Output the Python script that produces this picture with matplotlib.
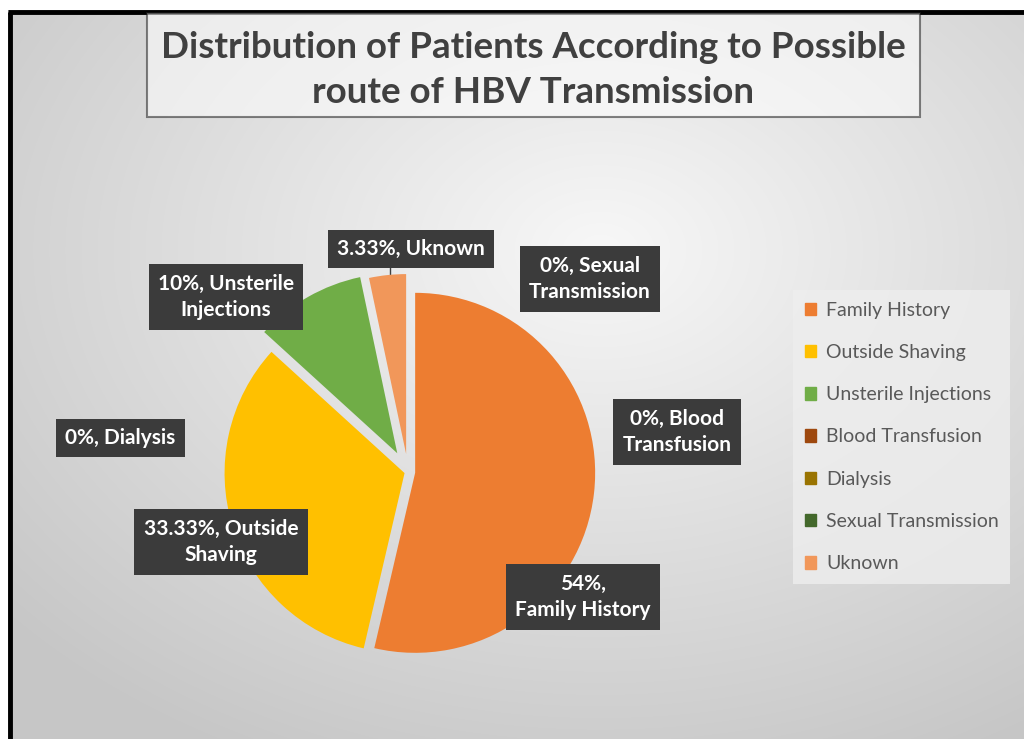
import numpy as np
import matplotlib
matplotlib.use("Agg")
from matplotlib import pyplot as plt
from matplotlib.patches import Rectangle

categories = ["Family History", "Outside Shaving", "Unsterile Injections",
              "Blood Transfusion", "Dialysis", "Sexual Transmission", "Uknown"]
percents = [54, 33.33, 10, 0, 0, 0, 3.33]
colors = ["#ED7D31", "#FFC000", "#70AD47", "#9E480E", "#997300", "#43682B", "#F1975A"]
explode = [0.04, 0.02, 0.12, 0, 0, 0, 0.1]
# where the label text is broken onto a second line
breaks = {"Family History": "54%,\nFamily History",
          "Outside Shaving": "33.33%, Outside\nShaving",
          "Unsterile Injections": "10%, Unsterile\nInjections",
          "Blood Transfusion": "0%, Blood\nTransfusion",
          "Sexual Transmission": "0%, Sexual\nTransmission"}
# label box centres in pixels
label_pos = [(583, 597), (221, 542), (226, 297), (677, 432), (120, 438), (590, 279), (411, 249)]

W, H = 1024, 739
fx = lambda x: x / W
fy = lambda y: 1 - y / H

plt.rcParams['font.family'] = ['Lato', 'DejaVu Sans']
fig = plt.figure(figsize=(W / 100, H / 100), dpi=100)
fig.patch.set_facecolor('white')

# gray gradient background
bg = fig.add_axes([0, 0, 1, 1])
yy, xx = np.mgrid[0:H, 0:W]
r = np.sqrt(((xx - 600) / 900.0) ** 2 + ((yy - 250) / 650.0) ** 2)
g = np.clip(0.97 - 0.22 * r, 0.78, 0.97)
img = np.dstack([g, g, g])
img[:10, :] = 1
img[:, :8] = 1
bg.imshow(img, extent=[0, W, H, 0], aspect='auto', interpolation='bilinear')
bg.plot([10, 10], [12, H], color='black', lw=3.5, solid_capstyle='butt')
bg.plot([8, W], [12, 12], color='black', lw=3.5, solid_capstyle='butt')
bg.set_xlim(0, W)
bg.set_ylim(H, 0)
bg.axis('off')

# title box
fig.patches.append(Rectangle((fx(147), fy(117)), fx(920) - fx(147), fy(13) - fy(117),
                             transform=fig.transFigure, facecolor='white', alpha=0.55,
                             edgecolor='#202020', lw=1.5))
fig.text(fx(533), fy(70), "Distribution of Patients According to Possible\nroute of HBV Transmission",
         ha='center', va='center', fontsize=26.5, fontweight='bold', color='#404040',
         linespacing=1.45)

# pie
cx, cy, rad, half = 408, 472, 180, 260
ax = fig.add_axes([fx(cx - half), fy(cy + half), 2 * half / W, 2 * half / H])
ax.pie(percents, colors=colors, explode=explode, startangle=90, counterclock=False,
       wedgeprops=dict(linewidth=0))
lim = half / rad
ax.set_xlim(-lim, lim)
ax.set_ylim(-lim, lim)
ax.axis('off')

# data labels
for name, p, (lx, ly) in zip(categories, percents, label_pos):
    txt = breaks.get(name, f"{p:g}%, {name}")
    fig.text(fx(lx), fy(ly), txt, ha='center', va='center', fontsize=15,
             fontweight='bold', color='white', linespacing=1.4,
             bbox=dict(boxstyle='square,pad=0.45', facecolor='#3b3b3b', edgecolor='none'))
bg.plot([390, 390], [268, 285], color='#404040', lw=1)

# legend
handles = [plt.Rectangle((0, 0), 1, 1, color=c) for c in colors]
leg = fig.legend(handles, categories, loc='upper left',
                 bbox_to_anchor=(fx(793), fy(290)), frameon=True, fancybox=False,
                 fontsize=14, labelcolor='#595959', handlelength=0.6, handleheight=0.6,
                 handletextpad=0.5, labelspacing=1.3, borderpad=0.6, borderaxespad=0)
leg.get_frame().set_facecolor('#eeeeee')
leg.get_frame().set_edgecolor('none')
leg.get_frame().set_alpha(0.8)

fig.savefig("out.png", dpi=100)
